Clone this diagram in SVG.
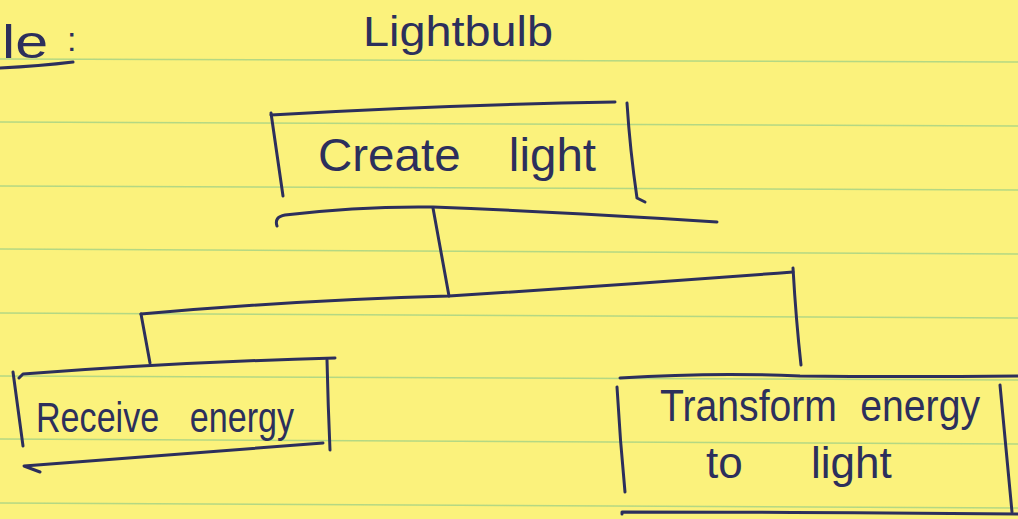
<svg xmlns="http://www.w3.org/2000/svg" width="1018" height="519" viewBox="0 0 1018 519">
  <defs>
    <style>
      .ink { fill: none; stroke: #2c2f5c; stroke-width: 3; stroke-linecap: round; stroke-linejoin: round; }
      .rule { fill: none; stroke: #9ccf86; stroke-width: 1.6; opacity: 0.75; }
      .hand { font-family: "Liberation Sans", "DejaVu Sans", sans-serif; fill: #2c2f5c; font-weight: normal; }
    </style>
  </defs>

  <!-- yellow ruled paper -->
  <rect x="0" y="0" width="1018" height="519" fill="#fbf27c"/>
  <g id="paper-rules">
    <path class="rule" d="M0 59 L1018 62"/>
    <path class="rule" d="M0 122 L1018 126"/>
    <path class="rule" d="M0 186 L1018 190"/>
    <path class="rule" d="M0 249 L1018 254"/>
    <path class="rule" d="M0 313 L1018 318"/>
    <path class="rule" d="M0 376 L1018 380"/>
    <path class="rule" d="M0 439 L1018 444"/>
    <path class="rule" d="M0 503 L1018 508"/>
  </g>

  <!-- heading fragment at the top left -->
  <g id="heading">
    <text class="hand" x="2" y="58" font-size="46" textLength="46" lengthAdjust="spacingAndGlyphs">le</text>
    <text class="hand" x="67" y="51" font-size="34">:</text>
    <path class="ink" d="M0 68 Q40 66 73 62"/>
  </g>

  <!-- title -->
  <g id="title">
    <text class="hand" x="363" y="46" font-size="42" textLength="190" lengthAdjust="spacingAndGlyphs">Lightbulb</text>
  </g>

  <!-- root function -->
  <g id="node-create-light">
    <path class="ink" d="M271 115 Q440 105 615 102"/>
    <path class="ink" d="M271 113 L283 196"/>
    <path class="ink" d="M627 103 Q630 150 637 198 L645 202"/>
    <text class="hand" x="318" y="171" font-size="46" word-spacing="34" textLength="278" lengthAdjust="spacingAndGlyphs">Create light</text>
  </g>

  <!-- sub-function: receive energy -->
  <g id="node-receive-energy">
    <path class="ink" d="M19 378 L23 374 Q180 362 335 358"/>
    <path class="ink" d="M13 372 L23 446"/>
    <path class="ink" d="M327 360 Q328 405 330 450"/>
    <path class="ink" d="M323 443 Q170 455 24 466 L40 472"/>
    <text class="hand" x="36" y="432" font-size="42" word-spacing="26" textLength="258" lengthAdjust="spacingAndGlyphs">Receive energy</text>
  </g>

  <!-- sub-function: transform energy to light -->
  <g id="node-transform-energy">
    <path class="ink" d="M620 378 Q713 372 800 376 Q900 377 1018 376"/>
    <path class="ink" d="M617 387 Q620 440 625 492"/>
    <path class="ink" d="M1000 385 Q1006 450 1012 512"/>
    <path class="ink" d="M622 514 L622 512 Q800 512 1018 514"/>
    <text class="hand" x="660" y="421" font-size="44" word-spacing="14" textLength="320" lengthAdjust="spacingAndGlyphs">Transform energy</text>
    <text class="hand" x="706" y="478" font-size="44" word-spacing="56">to light</text>
  </g>

  <!-- decomposition connectors -->
  <g id="connectors">
    <path class="ink" d="M277 226 Q274 217 285 215 Q360 206 433 207 Q560 212 717 222"/>
    <path class="ink" d="M433 208 L449 296"/>
    <path class="ink" d="M141 314 Q300 300 449 296 Q620 285 793 272"/>
    <path class="ink" d="M141 314 L150 363"/>
    <path class="ink" d="M793 268 Q796 320 801 365"/>
  </g>
</svg>
